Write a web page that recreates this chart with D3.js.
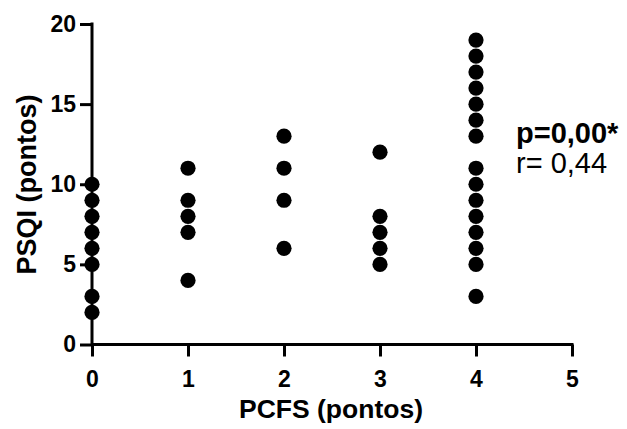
<!DOCTYPE html>
<html><head><meta charset="utf-8">
<script src="https://cdn.jsdelivr.net/npm/d3@7"></script>
<style>body{margin:0;background:#fff;} svg{display:block;font-family:Arial,"Liberation Sans",sans-serif;}</style>
</head><body><svg id="c" width="627" height="429"></svg>
<script>
const pcfs0 = [2,3,5,6,7,8,9,10];
const pcfs1 = [4,7,8,9,11];
const pcfs2 = [6,9,11,13];
const pcfs3 = [5,6,7,8,12];
const pcfs4 = [3,5,6,7,8,9,10,11,13,14,15,16,17,18,19];
const groups = [pcfs0, pcfs1, pcfs2, pcfs3, pcfs4];
const xTicks = [0,1,2,3,4,5];
const yTicks = [0,5,10,15,20];
const xLabel = "PCFS (pontos)";
const yLabel = "PSQI (pontos)";
const statP = "p=0,00*";
const statR = "r= 0,44";

const points = [];
groups.forEach((g,i)=>g.forEach(v=>points.push({x:i,y:v})));

const svg = d3.select("#c");
const x = d3.scaleLinear().domain([0,5]).range([92,572]);
const y = d3.scaleLinear().domain([0,20]).range([344.5,24]);

const xa = svg.append("g").attr("transform","translate(0,344.5)")
  .call(d3.axisBottom(x).tickValues(xTicks).tickFormat(d3.format("d")).tickSize(12).tickSizeOuter(0).tickPadding(14));
const ya = svg.append("g").attr("transform","translate(92,0)")
  .call(d3.axisLeft(y).tickValues(yTicks).tickFormat(d3.format("d")).tickSize(12).tickSizeOuter(0).tickPadding(4));
[xa,ya].forEach(a=>{
  a.attr("font-size",null).attr("font-family",null);
  a.selectAll("path,line").attr("stroke","#000").attr("stroke-width",3);
  a.selectAll("text").attr("fill","#000").attr("font-size",23).style("font-size","23px").style("font-weight","bold");
});
xa.select(".domain").attr("d","M92,0H573.5");
ya.select(".domain").attr("d","M0,346V22.5");

svg.append("g").selectAll("circle").data(points).join("circle")
  .attr("cx",d=>x(d.x)).attr("cy",d=>y(d.y)).attr("r",7.6).attr("fill","#000");

svg.append("text").attr("x",331).attr("y",418).attr("text-anchor","middle")
  .style("font-size","26.5px").style("font-weight","bold").text(xLabel);
svg.append("text").attr("transform","translate(36,184.5) rotate(-90)").attr("text-anchor","middle")
  .style("font-size","27px").style("font-weight","bold").text(yLabel);
svg.append("text").attr("x",516).attr("y",143).style("font-size","29px").style("font-weight","bold").text(statP);
svg.append("text").attr("x",516).attr("y",173).style("font-size","29px").text(statR);
</script></body></html>
